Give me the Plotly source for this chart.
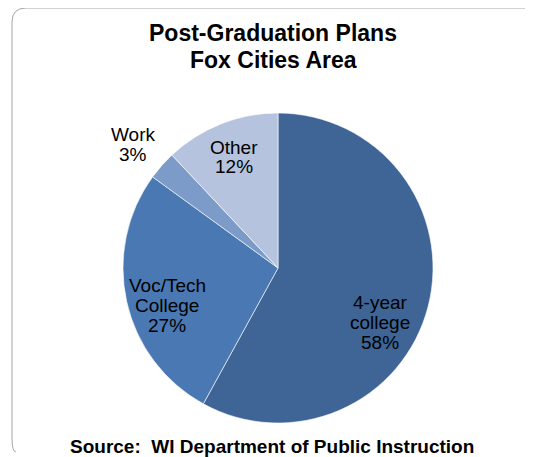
import plotly.graph_objects as go

# ------------------------------------------------------------------
# Data
# ------------------------------------------------------------------
categories = ["4-year college", "Voc/Tech College", "Work", "Other"]
label_lines = [["4-year", "college"], ["Voc/Tech", "College"], ["Work"], ["Other"]]
shares = [58, 27, 3, 12]
slice_colors = ["#3E6596", "#4A78B2", "#7D9BC9", "#B5C3DF"]

# the page body has an 8px margin, so the figure is drawn 8px in and
# sized to fill the rest of the 533x457 window
OFF = 8
W, H = 533 - OFF, 457 - OFF
FONT = "Liberation Sans, Arial, sans-serif"


def px(x):
    # window pixel -> paper x
    return (x - OFF) / W


def py(y):
    # window pixel -> paper y
    return 1 - (y - OFF) / H


# pie placement (window pixel centre and radius)
cx, cy, r = 278, 268, 155

fig = go.Figure(go.Pie(
    labels=categories,
    values=shares,
    sort=False,
    direction="clockwise",
    rotation=0,
    marker=dict(colors=slice_colors, line=dict(color="#FFFFFF", width=0.6)),
    textinfo="none",
    hoverinfo="label+percent",
    domain=dict(x=[px(cx - r), px(cx + r)], y=[py(cy + r), py(cy - r)]),
    showlegend=False,
))

# label centres in pixels (hand placed like the original)
label_pos = [(380, 322), (167, 305), (133, 144), (234, 157)]
line_gap = 20

annotations = []
for lines, val, (lx, ly) in zip(label_lines, shares, label_pos):
    all_lines = lines + [f"{val}%"]
    top = ly - line_gap * (len(all_lines) - 1) / 2
    for i, t in enumerate(all_lines):
        annotations.append(dict(
            x=px(lx), y=py(top + i * line_gap), xref="paper", yref="paper",
            text=t, showarrow=False, xanchor="center", yanchor="middle",
            font=dict(family=FONT, size=19, color="#000000"),
        ))

# title lines
for t, ty in [("Post-Graduation Plans", 33), ("Fox Cities Area", 60)]:
    annotations.append(dict(
        x=px(273), y=py(ty), xref="paper", yref="paper",
        text=f"<b>{t}</b>", showarrow=False, xanchor="center", yanchor="middle",
        font=dict(family=FONT, size=23, color="#000000"),
    ))

# source note
annotations.append(dict(
    x=px(272), y=py(446), xref="paper", yref="paper",
    text="<b>Source:  WI Department of Public Instruction</b>",
    showarrow=False, xanchor="center", yanchor="middle",
    font=dict(family=FONT, size=19, color="#000000"),
))

# rounded frame (left + top edges)
rc = 14
left, top, bottom = 12, 8, 452
frame = (
    f"M {px(533)},{py(top)} L {px(left + rc)},{py(top)} "
    f"Q {px(left)},{py(top)} {px(left)},{py(top + rc)} "
    f"L {px(left)},{py(bottom - rc)} "
    f"Q {px(left)},{py(bottom)} {px(left + 4)},{py(bottom)}"
)

fig.update_layout(
    width=W,
    height=H,
    margin=dict(l=0, r=0, t=0, b=0),
    paper_bgcolor="#FFFFFF",
    plot_bgcolor="#FFFFFF",
    annotations=annotations,
    shapes=[dict(type="path", path=frame, xref="paper", yref="paper",
                 line=dict(color="#A6A6A6", width=1))],
)

fig.write_html("out.html")
